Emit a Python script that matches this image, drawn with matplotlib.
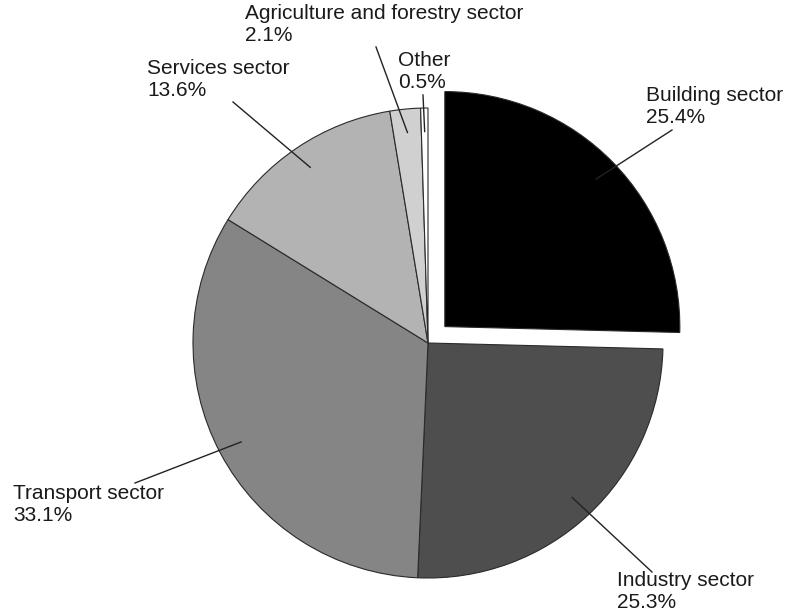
import numpy as np
import matplotlib
matplotlib.use('Agg')
import matplotlib.pyplot as plt

plt.rcParams['font.family'] = ['Liberation Sans', 'DejaVu Sans']

# data
sectors = ['Building sector', 'Industry sector', 'Transport sector',
           'Services sector', 'Agriculture and forestry sector', 'Other']
shares = [25.4, 25.3, 33.1, 13.6, 2.1, 0.5]
fills = ['#000000', '#4e4e4e', '#858585', '#b3b3b3', '#d0d0d0', '#ffffff']
explode = [0.1, 0, 0, 0, 0, 0]   # fraction of radius

# label layout in pixel coords (top-left origin): text top, leader start
label_pos = [(646, 90), (617, 575), (13, 488), (147, 63), (245, 8), (398, 55)]
leader_start = [(672, 130), (652, 572), (135, 483), (233, 102), (376, 47), (423, 95)]

W, H = 785, 615
cx, cy, R = 428, 343, 235

fig = plt.figure(figsize=(W / 100, H / 100), dpi=100)
ax = fig.add_axes([0, 0, 1, 1])

# pie explode is in data units, so scale by the radius
wedges, _ = ax.pie(shares, explode=[e * R for e in explode], colors=fills,
                   startangle=90, counterclock=False, center=(cx, H - cy),
                   radius=R, wedgeprops=dict(edgecolor='#2a2a2a', linewidth=0.8))

ax.set_xlim(0, W)
ax.set_ylim(0, H)
ax.axis('off')

for w, name, val, (tx, ty), (lx, ly) in zip(wedges, sectors, shares, label_pos, leader_start):
    # leader line from the label into the wedge (90% of radius, mid angle)
    mid = np.deg2rad((w.theta1 + w.theta2) / 2)
    px = w.center[0] + 0.9 * w.r * np.cos(mid)
    py = w.center[1] + 0.9 * w.r * np.sin(mid)
    ax.plot([lx, px], [H - ly, py], color='#222222', lw=1.0)
    ax.text(tx, H - (ty - 4), f'{name}\n{val}%', ha='left', va='top',
            fontsize=15, color='#1a1a1a')

fig.savefig('out.png', dpi=100)
